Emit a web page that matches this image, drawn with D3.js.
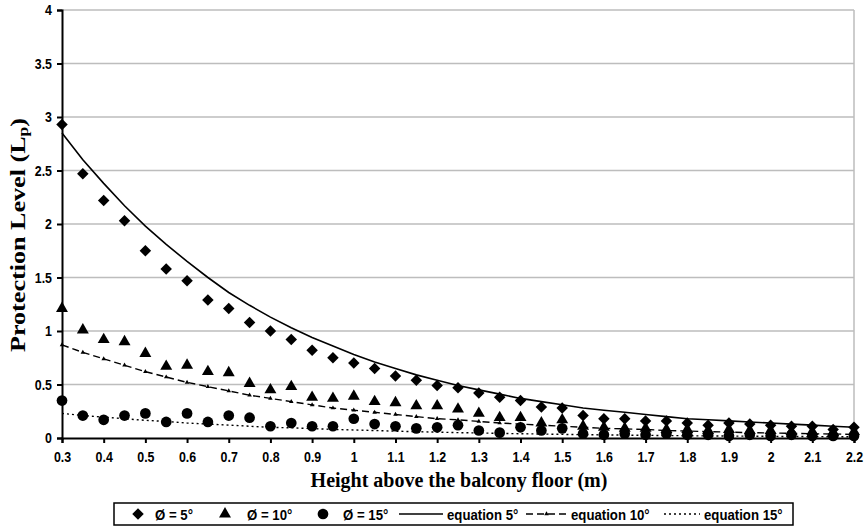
<!DOCTYPE html>
<html>
<head>
<meta charset="utf-8">
<script src="https://cdn.jsdelivr.net/npm/d3@7/dist/d3.min.js"></script>
<style>
  body { margin: 0; background: #fff; }
  text { font-family: "Liberation Sans", Arial, sans-serif; }
</style>
</head>
<body>
<svg id="chart" width="868" height="529"></svg>
<script>
const heights = ['0.3','0.35','0.4','0.45','0.5','0.55','0.6','0.65','0.7','0.75','0.8','0.85','0.9','0.95','1','1.05','1.1','1.15','1.2','1.25','1.3','1.35','1.4','1.45','1.5','1.55','1.6','1.65','1.7','1.75','1.8','1.85','1.9','1.95','2','2.05','2.1','2.15','2.2']
const xTickLabels = ['0.3','0.4','0.5','0.6','0.7','0.8','0.9','1','1.1','1.2','1.3','1.4','1.5','1.6','1.7','1.8','1.9','2','2.1','2.2']
const yTicks = [0, 0.5, 1, 1.5, 2, 2.5, 3, 3.5, 4]

// measured points
const phi5 = [2.93,2.47,2.22,2.03,1.75,1.58,1.47,1.29,1.21,1.08,1.00,0.92,0.82,0.75,0.70,0.65,0.58,0.54,0.49,0.47,0.42,0.38,0.35,0.29,0.28,0.21,0.18,0.18,0.16,0.16,0.14,0.12,0.14,0.13,0.12,0.11,0.11,0.08,0.10]
const phi10 = [1.21,1.01,0.92,0.90,0.79,0.67,0.68,0.62,0.61,0.51,0.45,0.48,0.38,0.37,0.39,0.34,0.33,0.30,0.30,0.27,0.23,0.19,0.19,0.14,0.17,0.11,0.10,0.09,0.09,0.08,0.08,0.07,0.08,0.07,0.07,0.06,0.06,0.05,0.06]
const phi15 = [0.35,0.21,0.17,0.21,0.23,0.15,0.23,0.15,0.21,0.19,0.11,0.14,0.11,0.11,0.18,0.13,0.11,0.09,0.10,0.12,0.07,0.05,0.10,0.07,0.09,0.04,0.03,0.04,0.03,0.04,0.03,0.03,0.02,0.03,0.02,0.03,0.02,0.02,0.02]

// equation curves
const eq5 = [2.85,2.60,2.38,2.17,1.98,1.81,1.65,1.50,1.36,1.24,1.13,1.03,0.94,0.86,0.78,0.71,0.65,0.59,0.54,0.49,0.45,0.41,0.37,0.34,0.31,0.28,0.26,0.24,0.22,0.20,0.18,0.17,0.16,0.15,0.14,0.13,0.12,0.11,0.10]
const eq10 = [0.87,0.80,0.74,0.68,0.62,0.57,0.52,0.48,0.44,0.40,0.37,0.34,0.31,0.28,0.26,0.24,0.22,0.20,0.18,0.17,0.155,0.14,0.13,0.12,0.11,0.10,0.09,0.085,0.08,0.07,0.065,0.06,0.055,0.05,0.047,0.043,0.04,0.037,0.034]
const eq15 = [0.23,0.21,0.195,0.18,0.165,0.155,0.14,0.13,0.12,0.11,0.10,0.095,0.088,0.08,0.075,0.07,0.064,0.059,0.055,0.05,0.047,0.043,0.04,0.037,0.034,0.031,0.029,0.027,0.025,0.023,0.021,0.019,0.018,0.017,0.015,0.014,0.013,0.012,0.011]

const svg = d3.select('#chart')
const plotLeft = 62, plotRight = 854, plotTop = 10, plotBottom = 438

const x = d3.scalePoint().domain(heights).range([plotLeft, plotRight])
const y = d3.scaleLinear().domain([0, 4]).range([plotBottom, plotTop])

// squeeze text horizontally (the original uses a narrow face)
const narrow = (sel, k) => sel.each(function () {
    const w = this.getComputedTextLength()
    d3.select(this).attr('textLength', w * k).attr('lengthAdjust', 'spacingAndGlyphs')
})

// gridlines
svg.append('g')
    .selectAll('line')
    .data(yTicks.filter(d => d > 0))
    .join('line')
    .attr('x1', plotLeft).attr('x2', plotRight)
    .attr('y1', d => y(d)).attr('y2', d => y(d))
    .style('stroke', '#bdbdbd')
    .style('stroke-width', 1.5)

svg.append('line')
    .attr('x1', plotRight).attr('x2', plotRight)
    .attr('y1', plotTop).attr('y2', plotBottom)
    .style('stroke', '#bdbdbd')
    .style('stroke-width', 1.5)

// axes
const yAxis = svg.append('g')
    .attr('transform', `translate(${plotLeft},0)`)
    .call(d3.axisLeft(y).tickValues(yTicks).tickSize(5).tickPadding(5).tickFormat(d3.format('')))
const xAxis = svg.append('g')
    .attr('transform', `translate(0,${plotBottom})`)
    .call(d3.axisBottom(x).tickValues(xTickLabels).tickSize(5).tickPadding(8))

;[xAxis, yAxis].forEach(a => {
    a.select('.domain').style('stroke', '#000').style('stroke-width', 2)
    a.selectAll('.tick line').style('stroke', '#000').style('stroke-width', 2)
    a.selectAll('.tick text')
        .style('font-family', '"Liberation Sans", Arial, sans-serif')
        .style('font-weight', 'bold')
        .style('font-size', '15.5px')
        .style('fill', '#000')
        .call(narrow, 0.8)
})

// equation lines
const line = (vals) => d3.line()
    .x((d, i) => x(heights[i]))
    .y(d => y(d))(vals)

svg.append('path').attr('d', line(eq5))
    .attr('fill', 'none').style('stroke', '#000').style('stroke-width', 1.6)
svg.append('path').attr('d', line(eq10))
    .attr('fill', 'none').style('stroke', '#000').style('stroke-width', 1.4)
    .style('stroke-dasharray', '7,4')
svg.append('path').attr('d', line(eq15))
    .attr('fill', 'none').style('stroke', '#000').style('stroke-width', 1.4)
    .style('stroke-dasharray', '2,3')

const smallTri = d3.symbol().type(d3.symbolTriangle).size(9)
svg.append('g').selectAll('path')
    .data(eq10)
    .join('path')
    .attr('d', smallTri)
    .attr('transform', (d, i) => `translate(${x(heights[i])},${y(d)})`)
    .attr('fill', '#000')

// markers
const diamond = d3.symbol().type(d3.symbolSquare).size(66)
const triangle = d3.symbol().type(d3.symbolTriangle).size(62)
const circle = d3.symbol().type(d3.symbolCircle).size(90)

const drawMarkers = (vals, sym, rot) => {
    svg.append('g').selectAll('path')
        .data(vals)
        .join('path')
        .attr('d', sym)
        .attr('transform', (d, i) => `translate(${x(heights[i])},${y(d)}) rotate(${rot})`)
        .attr('fill', '#000')
}
drawMarkers(phi5, diamond, 45)
drawMarkers(phi10, triangle, 0)
drawMarkers(phi15, circle, 0)

// axis titles
svg.append('text')
    .attr('x', 459).attr('y', 487)
    .attr('text-anchor', 'middle')
    .style('font-family', '"Liberation Serif", "Times New Roman", serif')
    .style('font-weight', 'bold')
    .style('font-size', '20px')
    .text('Height above the balcony floor (m)')

const yTitle = svg.append('text')
    .attr('transform', 'translate(25,235) rotate(-90)')
    .attr('text-anchor', 'middle')
    .attr('textLength', 234)
    .attr('lengthAdjust', 'spacingAndGlyphs')
    .style('font-family', '"Liberation Serif", "Times New Roman", serif')
    .style('font-weight', 'bold')
    .style('font-size', '21px')
yTitle.append('tspan').text('Protection Level (L')
yTitle.append('tspan').text('p').style('font-size', '14px').attr('dy', 3)
yTitle.append('tspan').text(')').attr('dy', -3)

// legend
const legend = svg.append('g')
legend.append('rect')
    .attr('x', 114).attr('y', 503).attr('width', 679).attr('height', 22)
    .attr('fill', '#fff').style('stroke', '#000').style('stroke-width', 1.5)

const legendItems = [
    { label: 'Ø = 5°', kind: 'diamond', sx: 138, tx: 155 },
    { label: 'Ø = 10°', kind: 'triangle', sx: 225, tx: 247 },
    { label: 'Ø = 15°', kind: 'circle', sx: 323, tx: 343 },
    { label: 'equation 5°', kind: 'solid', sx: 399, tx: 447 },
    { label: 'equation 10°', kind: 'dash', sx: 526, tx: 571 },
    { label: 'equation 15°', kind: 'dot', sx: 664, tx: 704 }
]
const ly = 514
legendItems.forEach(it => {
    if (it.kind === 'diamond') {
        legend.append('path').attr('d', diamond).attr('transform', `translate(${it.sx},${ly}) rotate(45)`)
    } else if (it.kind === 'triangle') {
        legend.append('path').attr('d', triangle).attr('transform', `translate(${it.sx},${ly})`)
    } else if (it.kind === 'circle') {
        legend.append('path').attr('d', circle).attr('transform', `translate(${it.sx},${ly})`)
    } else {
        const seg = legend.append('line')
            .attr('x1', it.sx).attr('x2', it.tx - 4)
            .attr('y1', ly).attr('y2', ly)
            .style('stroke', '#000').style('stroke-width', 1.5)
        if (it.kind === 'dash') {
            seg.style('stroke-dasharray', '7,4')
            legend.append('path').attr('d', smallTri)
                .attr('transform', `translate(${(it.sx + it.tx - 4) / 2},${ly})`)
        }
        if (it.kind === 'dot') seg.style('stroke-dasharray', '2,3')
    }
    legend.append('text')
        .attr('x', it.tx).attr('y', ly + 5.5)
        .style('font-weight', 'bold')
        .style('font-size', '15px')
        .text(it.label)
        .call(narrow, 0.88)
})
</script>
</body>
</html>
